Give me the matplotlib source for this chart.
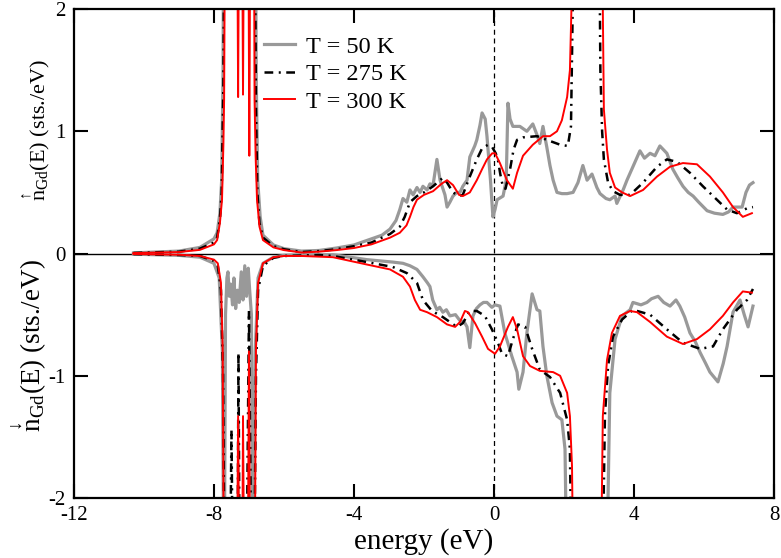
import numpy as np
import matplotlib
matplotlib.use("Agg")
import matplotlib.pyplot as plt

plt.rcParams["font.family"] = ["Liberation Serif", "DejaVu Serif"]
plt.rcParams["mathtext.fontset"] = "stix"
plt.rcParams["axes.unicode_minus"] = False

# (energy eV, DOS sts./eV); spin up > 0, spin down < 0
gray_up = np.array([
    (-10.3, 0.005), (-9.0, 0.02), (-8.4, 0.05), (-8.0, 0.12), (-7.91, 0.17), (-7.83, 0.33),
    (-7.78, 0.6), (-7.74, 1.5), (-7.72, 3.0), (-6.82, 3.0), (-6.79, 1.4), (-6.75, 0.6),
    (-6.68, 0.3), (-6.6, 0.15), (-6.3, 0.07), (-6.0, 0.04), (-5.5, 0.02), (-5.0, 0.025),
    (-4.5, 0.045), (-4.0, 0.07), (-3.5, 0.12), (-3.2, 0.15), (-2.97, 0.2), (-2.8, 0.27),
    (-2.69, 0.36), (-2.6, 0.45), (-2.49, 0.42), (-2.4, 0.52), (-2.31, 0.48), (-2.2, 0.54),
    (-2.11, 0.5), (-2.03, 0.55), (-1.91, 0.52), (-1.83, 0.57), (-1.74, 0.56), (-1.63, 0.77),
    (-1.54, 0.6), (-1.4, 0.48), (-1.34, 0.38), (-1.26, 0.42), (-1.17, 0.47), (-1.06, 0.5),
    (-0.97, 0.5), (-0.89, 0.55), (-0.77, 0.6), (-0.69, 0.79), (-0.55, 0.88), (-0.49, 0.93),
    (-0.4, 1.05), (-0.34, 1.15), (-0.25, 1.1), (-0.2, 0.96), (-0.1, 0.6), (-0.03, 0.3),
    (0.03, 0.36), (0.09, 0.44), (0.26, 0.47), (0.35, 0.6), (0.4, 1.23), (0.46, 1.1),
    (0.54, 1.04), (0.74, 1.04), (0.94, 1.0), (1.11, 1.06), (1.23, 0.97), (1.31, 0.9),
    (1.4, 1.04), (1.51, 0.87), (1.6, 0.72), (1.69, 0.6), (1.8, 0.5), (1.94, 0.49),
    (2.09, 0.49), (2.26, 0.5), (2.4, 0.58), (2.54, 0.72), (2.66, 0.6), (2.8, 0.65),
    (2.94, 0.54), (3.03, 0.49), (3.2, 0.45), (3.31, 0.44), (3.46, 0.47), (3.51, 0.41),
    (3.69, 0.52), (3.8, 0.6), (3.97, 0.71), (4.17, 0.84), (4.3, 0.78), (4.46, 0.82),
    (4.6, 0.8), (4.74, 0.88), (4.94, 0.82), (5.11, 0.69), (5.25, 0.62), (5.4, 0.55),
    (5.55, 0.5), (5.69, 0.47), (5.85, 0.42), (6.09, 0.35), (6.3, 0.33), (6.54, 0.32),
    (6.7, 0.34), (6.83, 0.38), (7.09, 0.38), (7.2, 0.5), (7.3, 0.56), (7.4, 0.58)])

black_up = np.array([
    (-10.3, 0.005), (-9.0, 0.015), (-8.4, 0.04), (-8.0, 0.09), (-7.91, 0.13), (-7.83, 0.28),
    (-7.78, 0.5), (-7.73, 1.4), (-7.7, 3.0), (-6.84, 3.0), (-6.8, 1.2), (-6.76, 0.5),
    (-6.7, 0.25), (-6.6, 0.13), (-6.3, 0.06), (-6.0, 0.035), (-5.5, 0.012), (-5.0, 0.02),
    (-4.5, 0.035), (-4.0, 0.06), (-3.5, 0.09), (-2.97, 0.16), (-2.69, 0.22), (-2.55, 0.3),
    (-2.4, 0.42), (-2.2, 0.47), (-2.0, 0.5), (-1.74, 0.55), (-1.46, 0.62), (-1.34, 0.58),
    (-1.17, 0.5), (-1.0, 0.47), (-0.89, 0.48), (-0.69, 0.63), (-0.49, 0.77), (-0.34, 0.86),
    (-0.17, 0.89), (-0.05, 0.87), (0.05, 0.82), (0.11, 0.77), (0.18, 0.65), (0.26, 0.54),
    (0.33, 0.53), (0.46, 0.69), (0.56, 0.85), (0.66, 0.93), (0.83, 0.95), (1.23, 0.96),
    (1.51, 0.93), (1.89, 0.89), (2.11, 0.88), (2.2, 1.04), (2.26, 2.2), (2.3, 3.0),
    (3.0, 3.0), (3.04, 1.5), (3.09, 1.0), (3.14, 0.77), (3.26, 0.58), (3.4, 0.51),
    (3.6, 0.48), (3.89, 0.48), (4.26, 0.58), (4.66, 0.71), (4.94, 0.77), (5.23, 0.75),
    (5.6, 0.66), (5.97, 0.55), (6.37, 0.44), (6.66, 0.36), (6.94, 0.33), (7.23, 0.37),
    (7.4, 0.38)])

red_up = np.array([
    (-10.3, 0.004), (-9.0, 0.012), (-8.4, 0.03), (-8.0, 0.075), (-7.91, 0.11), (-7.83, 0.25),
    (-7.77, 0.44), (-7.73, 0.9), (-7.71, 1.26), (-7.68, 3.0), (-7.34, 3.0), (-7.31, 1.28),
    (-7.28, 3.0), (-7.2, 3.0), (-7.17, 1.3), (-7.14, 3.0), (-7.02, 3.0), (-6.99, 0.8),
    (-6.96, 3.0), (-6.86, 3.0), (-6.84, 1.26), (-6.81, 0.8), (-6.77, 0.44), (-6.7, 0.22),
    (-6.6, 0.11), (-6.3, 0.05), (-6.0, 0.028), (-5.5, 0.008), (-5.0, 0.015), (-4.5, 0.028),
    (-4.0, 0.045), (-3.5, 0.075), (-2.97, 0.13), (-2.69, 0.17), (-2.5, 0.23), (-2.4, 0.3),
    (-2.3, 0.38), (-2.2, 0.44), (-2.0, 0.48), (-1.74, 0.51), (-1.5, 0.57), (-1.34, 0.6),
    (-1.17, 0.56), (-1.0, 0.48), (-0.89, 0.47), (-0.69, 0.5), (-0.49, 0.6), (-0.34, 0.69),
    (-0.2, 0.77), (-0.05, 0.82), (0.03, 0.82), (0.17, 0.74), (0.37, 0.6), (0.54, 0.53),
    (0.66, 0.66), (0.83, 0.8), (1.11, 0.89), (1.4, 0.96), (1.6, 0.96), (1.8, 1.0),
    (1.94, 1.09), (2.09, 1.28), (2.17, 1.5), (2.23, 2.2), (2.27, 3.0), (3.07, 3.0),
    (3.11, 2.0), (3.14, 1.18), (3.23, 0.85), (3.31, 0.66), (3.46, 0.54), (3.66, 0.5),
    (3.89, 0.47), (4.26, 0.52), (4.66, 0.63), (5.03, 0.71), (5.4, 0.74), (5.8, 0.73),
    (6.17, 0.63), (6.54, 0.5), (6.83, 0.38), (7.11, 0.3), (7.37, 0.33)])

gray_dn = np.array([
    (-10.3, -0.005), (-9.0, -0.015), (-8.4, -0.03), (-8.0, -0.08), (-7.85, -0.2), (-7.76, -0.8),
    (-7.71, -3.0), (-7.67, -0.5), (-7.63, -0.2), (-7.6, -0.15), (-7.56, -0.35), (-7.52, -0.25),
    (-7.47, -0.42), (-7.43, -0.2), (-7.38, -0.45), (-7.33, -0.3), (-7.28, -0.4), (-7.22, -0.15),
    (-7.17, -0.38), (-7.12, -0.1), (-7.07, -0.35), (-7.02, -0.12), (-6.98, -0.3), (-6.93, -0.5),
    (-6.88, -3.0), (-6.82, -0.8), (-6.74, -0.2), (-6.6, -0.08), (-6.3, -0.03), (-6.0, -0.015),
    (-5.5, -0.01), (-4.6, -0.01), (-3.63, -0.05), (-2.89, -0.07), (-2.6, -0.08), (-2.4, -0.1),
    (-2.2, -0.13), (-2.03, -0.19), (-1.9, -0.24), (-1.83, -0.27), (-1.75, -0.38), (-1.63, -0.46),
    (-1.55, -0.44), (-1.46, -0.48), (-1.36, -0.46), (-1.26, -0.51), (-1.1, -0.5), (-0.97, -0.55),
    (-0.85, -0.56), (-0.77, -0.6), (-0.69, -0.77), (-0.6, -0.51), (-0.5, -0.45), (-0.4, -0.42),
    (-0.3, -0.4), (-0.2, -0.4), (-0.06, -0.44), (0.03, -0.42), (0.17, -0.43), (0.31, -0.65),
    (0.51, -0.84), (0.66, -0.97), (0.71, -1.11), (0.83, -0.97), (0.94, -0.65), (1.09, -0.33),
    (1.23, -0.46), (1.31, -0.47), (1.4, -0.76), (1.51, -1.0), (1.66, -1.22), (1.8, -1.33),
    (1.94, -1.36), (2.03, -1.6), (2.1, -3.0), (3.2, -3.0), (3.31, -1.14), (3.46, -0.7),
    (3.66, -0.51), (3.89, -0.46), (3.97, -0.4), (4.2, -0.42), (4.37, -0.4), (4.5, -0.37),
    (4.69, -0.35), (4.85, -0.4), (5.03, -0.43), (5.2, -0.38), (5.31, -0.43), (5.45, -0.52),
    (5.6, -0.65), (5.75, -0.72), (5.89, -0.81), (6.05, -0.9), (6.17, -0.97), (6.4, -1.05),
    (6.55, -0.9), (6.66, -0.76), (6.83, -0.48), (6.95, -0.42), (7.03, -0.38), (7.15, -0.5),
    (7.26, -0.6), (7.4, -0.43)])

black_dn = np.array([
    (-10.3, -0.005), (-9.0, -0.012), (-8.4, -0.02), (-8.0, -0.06), (-7.89, -0.1), (-7.8, -0.3),
    (-7.74, -1.0), (-7.69, -3.0), (-7.55, -3.0), (-7.5, -1.44), (-7.45, -3.0), (-7.33, -3.0),
    (-7.3, -0.81), (-7.26, -3.0), (-7.08, -3.0), (-7.0, -0.47), (-6.92, -3.0), (-6.86, -3.0),
    (-6.8, -1.0), (-6.74, -0.3), (-6.6, -0.1), (-6.3, -0.035), (-6.0, -0.02), (-5.0, -0.012),
    (-4.6, -0.02), (-3.63, -0.07), (-2.89, -0.11), (-2.49, -0.16), (-2.2, -0.24), (-2.03, -0.38),
    (-1.77, -0.47), (-1.46, -0.52), (-1.06, -0.6), (-0.89, -0.57), (-0.69, -0.47), (-0.49, -0.47),
    (-0.26, -0.51), (-0.06, -0.62), (0.1, -0.72), (0.23, -0.82), (0.4, -0.84), (0.54, -0.7),
    (0.69, -0.58), (0.89, -0.6), (1.09, -0.78), (1.31, -0.95), (1.6, -1.01), (1.89, -1.14),
    (2.09, -1.36), (2.17, -1.6), (2.23, -3.0), (3.08, -3.0), (3.17, -1.33), (3.26, -0.92),
    (3.4, -0.68), (3.66, -0.54), (3.97, -0.46), (4.46, -0.5), (4.94, -0.62), (5.4, -0.73),
    (5.89, -0.78), (6.26, -0.76), (6.54, -0.62), (6.94, -0.46), (7.23, -0.38), (7.4, -0.29)])

red_dn = np.array([
    (-10.3, -0.004), (-9.0, -0.01), (-8.4, -0.02), (-8.0, -0.05), (-7.89, -0.08), (-7.8, -0.24),
    (-7.75, -0.78), (-7.71, -3.0), (-7.35, -3.0), (-7.31, -1.33), (-7.27, -3.0), (-7.2, -3.0),
    (-7.17, -1.33), (-7.13, -3.0), (-7.04, -3.0), (-7.0, -0.8), (-6.96, -3.0), (-6.84, -3.0),
    (-6.8, -0.78), (-6.74, -0.24), (-6.6, -0.08), (-6.3, -0.03), (-6.0, -0.02), (-5.5, -0.02),
    (-4.6, -0.03), (-3.63, -0.09), (-2.97, -0.13), (-2.6, -0.19), (-2.4, -0.27), (-2.26, -0.38),
    (-2.11, -0.46), (-1.91, -0.48), (-1.63, -0.52), (-1.34, -0.58), (-1.11, -0.6), (-0.97, -0.56),
    (-0.83, -0.47), (-0.74, -0.48), (-0.54, -0.57), (-0.34, -0.68), (-0.17, -0.78), (0.03, -0.82),
    (0.17, -0.76), (0.4, -0.6), (0.54, -0.52), (0.66, -0.62), (0.83, -0.84), (1.03, -0.92),
    (1.31, -0.96), (1.69, -0.97), (1.89, -1.0), (2.09, -1.14), (2.17, -1.33), (2.23, -1.74),
    (2.28, -3.0), (3.04, -3.0), (3.11, -1.33), (3.23, -0.87), (3.37, -0.65), (3.6, -0.51),
    (3.89, -0.47), (4.09, -0.48), (4.46, -0.56), (4.94, -0.68), (5.4, -0.74), (5.8, -0.7),
    (6.17, -0.62), (6.54, -0.51), (6.83, -0.4), (7.11, -0.31), (7.37, -0.32)])

labels = ["T = 50 K", "T = 275 K", "T = 300 K"]
xticks = [-12, -8, -4, 0, 4, 8]
yticks = [-2, -1, 0, 1, 2]

fig = plt.figure(figsize=(7.81, 5.58), dpi=100)
ax = fig.add_axes([0.0947, 0.1075, 0.8963, 0.8763])

ax.axhline(0, color="black", lw=1.0, zorder=1)
ax.axvline(0, color="black", lw=0.9, ls=(0, (4, 3)), zorder=1)

g, = ax.plot(gray_up[:, 0], gray_up[:, 1], color="#999999", lw=2.3, label=labels[0])
ax.plot(gray_dn[:, 0], gray_dn[:, 1], color="#999999", lw=2.3)
b, = ax.plot(black_up[:, 0], black_up[:, 1], color="black", lw=1.8,
             dashes=(3.5, 2.2, 0.8, 2.2), label=labels[1])
ax.plot(black_dn[:, 0], black_dn[:, 1], color="black", lw=1.8, dashes=(3.5, 2.2, 0.8, 2.2))
r, = ax.plot(red_up[:, 0], red_up[:, 1], color="red", lw=1.4, label=labels[2])
ax.plot(red_dn[:, 0], red_dn[:, 1], color="red", lw=1.4)

ax.set_xlim(-12, 8)
ax.set_ylim(-2, 2)
ax.set_xticks(xticks)
ax.set_yticks(yticks)
ax.tick_params(direction="in", length=10, width=1.5, labelsize=15,
               top=True, right=True, pad=6)
for s in ax.spines.values():
    s.set_linewidth(1.6)

ax.set_xlabel("energy (eV)", fontsize=21, labelpad=2)

fig.text(0.046, 0.767, r"$\mathregular{\overset{\uparrow}{n}_{Gd}}$(E) (sts./eV)",
         rotation=90, fontsize=16, ha="center", va="center")
fig.text(0.038, 0.38, r"$\mathregular{\overset{\downarrow}{n}_{Gd}}$(E) (sts./eV)",
         rotation=90, fontsize=19.5, ha="center", va="center")

ax.legend(handles=[g, b, r], loc="upper left", bbox_to_anchor=(0.243, 0.985),
          frameon=False, fontsize=17.5, handlelength=1.3, handletextpad=0.45,
          labelspacing=0.22, borderpad=0.3)

fig.savefig("out.png", dpi=100)
